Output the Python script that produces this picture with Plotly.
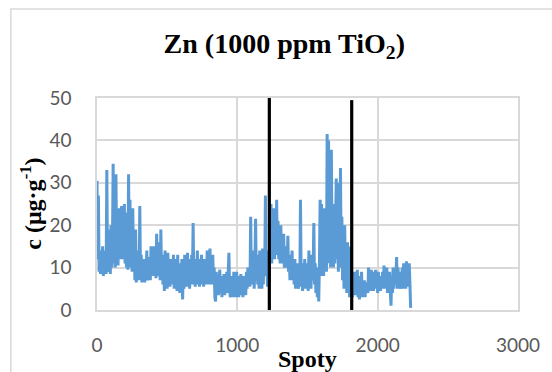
import plotly.graph_objects as go

# Zn concentration (µg/g) read every 5 spots
zn = [
    30.5, 12, 27, 9, 14, 8.5, 13, 9, 15, 8, 12, 9.5, 14, 8.5, 33, 10, 19, 9, 16, 8.5,
    20, 10, 15, 34.5, 11, 22, 10, 32, 12, 18, 10.5, 24, 12, 20, 14, 24.5, 12, 21, 13, 25,
    11, 23, 10, 18, 9.5, 32, 12, 26, 10, 20, 9, 24, 11, 17, 7, 19, 6.5, 14, 8, 12,
    7, 24.5, 8, 13, 6.5, 11, 7.5, 12, 6.5, 10, 8, 14, 7, 11, 9, 12.5, 7, 15, 8, 14.5,
    9, 15, 8, 13, 7.5, 18, 9, 12, 8, 16, 7, 19, 8.5, 13, 6, 12, 4.5, 14, 7, 11,
    5, 13.5, 7, 11, 5.5, 12, 6, 10, 8, 13, 5, 12, 6.5, 9, 4.5, 13, 6, 11, 4, 10,
    6, 12, 2.5, 9, 5, 13, 6, 11, 5.5, 13.5, 7, 10, 5, 12, 6, 13, 8, 20.5, 6, 12,
    5.5, 11, 7, 14, 6, 12, 5.5, 10, 8, 13, 6, 11, 5.5, 12, 7, 10, 6, 14, 8, 12,
    6, 14.5, 7, 12, 6, 13, 7, 10, 3, 2, 9, 4, 8, 3.5, 7, 9.5, 4, 8, 3, 7,
    4, 8.5, 3.5, 7, 5, 9, 4, 8, 13.5, 5, 3, 8, 4, 7, 3, 9, 4.5, 6.5, 3, 9,
    4, 8, 3, 7, 4.5, 8.5, 3.5, 6, 3, 8, 5, 7, 3.5, 9, 5, 10, 6, 9.5, 5.5, 22,
    7, 12, 6, 14, 5, 9, 21.5, 8, 13, 6, 11, 5, 14, 7, 12, 5, 14.5, 6, 13, 8,
    27, 8, 13, 5.5, 14, 6, 12, 16, 25, 11, 22, 13, 24, 12, 20, 14, 26, 13, 21, 12,
    19, 11, 20, 12, 17, 11, 18, 10, 15, 11, 14, 10, 17.5, 9, 13, 7, 12, 8, 14, 7,
    10, 6, 12, 5, 9, 6, 11, 5, 8, 5.5, 26, 6, 11, 4.5, 9, 5, 12, 6, 10, 5,
    11, 4.5, 14, 6, 10, 5, 13, 7, 9, 20.5, 6, 11, 4, 9, 3, 10, 2, 11, 26, 8,
    25, 10, 22, 8, 24, 12, 19, 9, 41.5, 14, 40, 11, 28, 10, 37.8, 12, 24, 10, 25, 11,
    20, 31, 12, 26, 9, 30, 14, 33.5, 10, 22, 7, 18, 5, 20, 8, 15, 4, 16, 6, 14,
    3, 15, 4, 9, 3, 8, 5, 9, 3.5, 7, 4, 9.5, 3, 8, 2.5, 7, 4, 9, 3, 6.5,
    4, 7, 3, 6, 5, 6.5, 4, 10, 5, 8, 4.5, 9.5, 6, 8, 4.5, 9, 5, 9.5, 6, 8,
    4, 9, 5, 8, 4.5, 7, 6, 9, 5, 10.5, 6, 9, 5, 10, 4, 8, 6, 9, 4.5, 1,
    8, 4, 10, 5, 9, 6, 8, 12.5, 5, 10, 6, 9, 5, 8, 6, 10, 5, 11, 6, 9,
    5, 11.5, 6, 10, 5.5, 11, 6, 0.5,
]
spots = list(range(0, 5 * len(zn), 5))

boundaries = [1228, 1815]
boundary_tops = [50, 49.5]

x_ticks = [0, 1000, 2000, 3000]
y_ticks = [0, 10, 20, 30, 40, 50]

fig = go.Figure()
fig.add_trace(go.Scatter(x=spots, y=zn, mode="lines",
                         line=dict(color="#5b9bd5", width=3),
                         showlegend=False, hoverinfo="skip"))
for b, top in zip(boundaries, boundary_tops):
    fig.add_trace(go.Scatter(x=[b, b], y=[0, top], mode="lines",
                             line=dict(color="black", width=3.2),
                             showlegend=False, hoverinfo="skip"))

grid = "#d9d9d9"
tickfont = dict(family="Lato", size=19, color="#595959")
fig.update_xaxes(range=[0, 3000], tickvals=x_ticks, showgrid=True, gridcolor=grid,
                 gridwidth=1.5, showline=True, linecolor=grid, linewidth=1.5, mirror=True,
                 zeroline=False, tickfont=tickfont, ticks="", ticklabelstandoff=17)
fig.update_yaxes(range=[0, 50], tickvals=y_ticks, showgrid=True, gridcolor=grid,
                 gridwidth=1.5, showline=True, linecolor=grid, linewidth=1.5, mirror=True,
                 zeroline=False, tickfont=tickfont, ticks="", ticklabelstandoff=20)

serif = dict(family="Liberation Serif", color="black", weight="bold")
fig.update_layout(
    width=552, height=372,
    margin=dict(l=97, r=30, t=98, b=62),
    paper_bgcolor="white", plot_bgcolor="white",
    title=dict(text="Zn (1000 ppm TiO<sub>2</sub>)", x=0.515, xanchor="center",
               y=1 - 43 / 372, yanchor="middle", font=dict(size=28, **serif)),
    shapes=[dict(type="rect", xref="paper", yref="paper",
                 x0=(10 - 97) / 425, x1=(570 - 97) / 425,
                 y0=(310 - 400) / 212, y1=(310 - 9) / 212,
                 line=dict(color="#d9d9d9", width=1.5), layer="below")],
    annotations=[
        dict(text="c (μg·g<sup>-1</sup>)", textangle=-90, xref="paper", yref="paper",
             x=(30 - 97) / 425, y=0.5, xanchor="center", yanchor="middle",
             showarrow=False, font=dict(size=24, **serif)),
        dict(text="Spoty", xref="paper", yref="paper", x=0.5, y=(310 - 359) / 212,
             xanchor="center", yanchor="middle", showarrow=False,
             font=dict(size=24, **serif)),
    ],
)
fig.write_html("out.html")
